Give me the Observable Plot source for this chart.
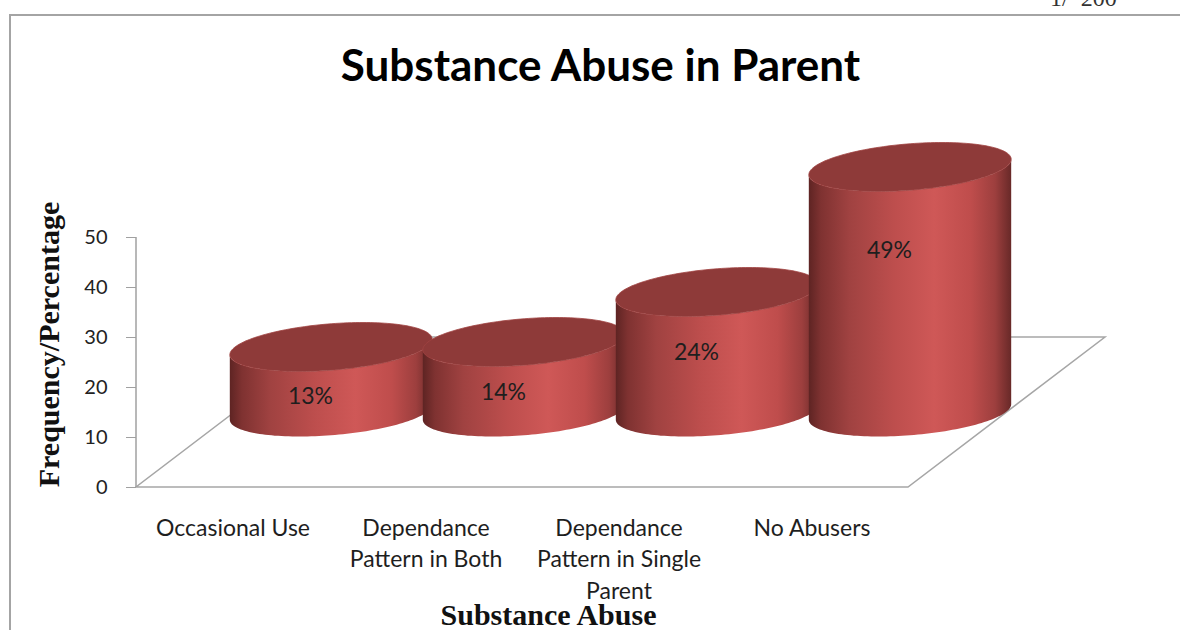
<!DOCTYPE html>
<html>
<head>
<meta charset="utf-8">
<script src="https://cdn.jsdelivr.net/npm/d3@7"></script>
<script src="https://cdn.jsdelivr.net/npm/@observablehq/plot@0.6"></script>
<style>
  html, body { margin: 0; padding: 0; background: #fff; }
  #wrap { position: relative; width: 1180px; height: 630px; overflow: hidden; background: #fff; }
  #chart { position: absolute; left: 0; top: 0; }
  #frame { position: absolute; left: 9px; top: 14px; width: 1300px; height: 800px; box-sizing: border-box;
           border-top: 2px solid #a4a4a4; border-left: 2px solid #a4a4a4; pointer-events: none; }
  #corner { position: absolute; left: 1050px; top: -14px; font: 24px/24px "Liberation Serif"; color: #333; white-space: nowrap; }
  g[aria-label="y-axis tick"] { stroke: #a0a0a0 !important; }
</style>
</head>
<body>
<div id="wrap">
  <div id="chart"></div>
  <div id="frame"></div>
  <div id="corner">1/&nbsp;&nbsp;200</div>
</div>
<script>
// ---- data ----
const categories = ["Occasional Use", "Dependance\nPattern in Both", "Dependance\nPattern in Single\nParent", "No Abusers"];
const values = [13, 14, 24, 49];
const valueLabels = ["13%", "14%", "24%", "49%"];
const yTicks = [0, 10, 20, 30, 40, 50];
const chartTitle = "Substance Abuse in Parent";
const xTitle = "Substance Abuse";
const yTitle = "Frequency/Percentage";

const data = categories.map((category, i) => ({category, value: values[i], label: valueLabels[i]}));

// ---- 3D style constants (pixels) ----
const DEPTH_X = 197, DEPTH_Y = 150;   // floor depth offset
const ER = 96, EA = 32, EB = 24.5;    // cylinder ellipse shape

function scene(index, scales) {
  const x = scales.x, y = scales.y;
  const [x0, x1] = x.range();
  const bw = x.bandwidth();
  const y0 = y(0), yTop = y(d3.max(yTicks));
  const g = d3.create("svg:g");
  const grad = g.append("defs").append("linearGradient")
    .attr("id", "cylSide").attr("x1", "0").attr("x2", "1").attr("y1", "0").attr("y2", "0");
  [[0, "#5e2423"], [0.06, "#7f3231"], [0.2, "#a04241"], [0.42, "#bd4e4d"], [0.62, "#cf5857"],
   [0.8, "#bf4d4c"], [0.92, "#9d3f3e"], [1, "#682928"]]
    .forEach(([o, c]) => grad.append("stop").attr("offset", o).attr("stop-color", c));

  // floor
  g.append("path")
    .attr("d", `M${x0},${y0}L${x1},${y0}L${x1 + DEPTH_X},${y0 - DEPTH_Y}L${x0 + DEPTH_X},${y0 - DEPTH_Y}Z`)
    .attr("fill", "none").attr("stroke", "#a6a6a6").attr("stroke-width", 1.5);
  // vertical axis line
  g.append("line").attr("x1", x0).attr("x2", x0).attr("y1", y0).attr("y2", yTop)
    .attr("stroke", "#a0a0a0").attr("stroke-width", 1.5);

  const th = Math.atan2(EA, ER);
  const pt = (cx, cy, t) => [cx + ER * Math.cos(t) - EA * Math.sin(t), cy + EB * Math.sin(t)];
  const arc = (cx, cy, t0, t1, n) => d3.range(n + 1).map(k => pt(cx, cy, t0 + (t1 - t0) * k / n));
  const line = d3.line();
  for (const d of data) {
    const cx = x(d.category) + bw / 2 + DEPTH_X / 2;
    const cb = y(0) - DEPTH_Y / 2;
    const ct = y(d.value) - DEPTH_Y / 2;
    const side = arc(cx, cb, Math.PI - th, -th, 80).concat(arc(cx, ct, -th, Math.PI - th, 80));
    g.append("path").attr("d", line(side) + "Z").attr("fill", "url(#cylSide)");
    g.append("path").attr("d", line(arc(cx, ct, 0, 2 * Math.PI, 160)) + "Z")
      .attr("fill", "#8e3a39").attr("stroke", "#a14443").attr("stroke-width", 0.8);
  }
  return g.node();
}

const chart = Plot.plot({
  width: 1180,
  height: 630,
  marginLeft: 136,
  marginRight: 272,
  marginTop: 237,
  marginBottom: 143,
  style: {fontFamily: "Lato", background: "transparent", color: "#222"},
  x: {type: "band", domain: categories, padding: 0, axis: null},
  y: {domain: [0, 50], axis: null},
  marks: [
    scene,
    Plot.text(data, {
      x: "category", y: d => 0.81 * d.value, text: "label",
      dx: DEPTH_X / 2 - 21, dy: -38, fontSize: 23, fill: "#1e1e1e"
    }),
    Plot.axisY({ticks: yTicks, tickSize: 10, tickPadding: 19, fontSize: 20, label: null, color: "#222"}),
    Plot.text(data, {
      x: "category", text: "category", frameAnchor: "bottom", lineAnchor: "top",
      dy: 26, fontSize: 23, lineHeight: 1.37, fill: "#1e1e1e"
    }),
    Plot.text([chartTitle], {
      text: d => d, frameAnchor: "top", lineAnchor: "top", dx: 78, dy: -188,
      fontSize: 44, fontWeight: "bold", fill: "#000"
    }),
    Plot.text([xTitle], {
      text: d => d, frameAnchor: "bottom", lineAnchor: "top", dx: 26, dy: 116,
      fontSize: 30, fontWeight: "bold", fontFamily: "Liberation Serif", fill: "#111"
    }),
    Plot.text([yTitle], {
      text: d => d, frameAnchor: "left", textAnchor: "middle", lineAnchor: "top", rotate: -90,
      dx: -99, dy: -18,
      fontSize: 30, fontWeight: "bold", fontFamily: "Liberation Serif", fill: "#111"
    })
  ]
});
document.getElementById("chart").appendChild(chart);
</script>
</body>
</html>
